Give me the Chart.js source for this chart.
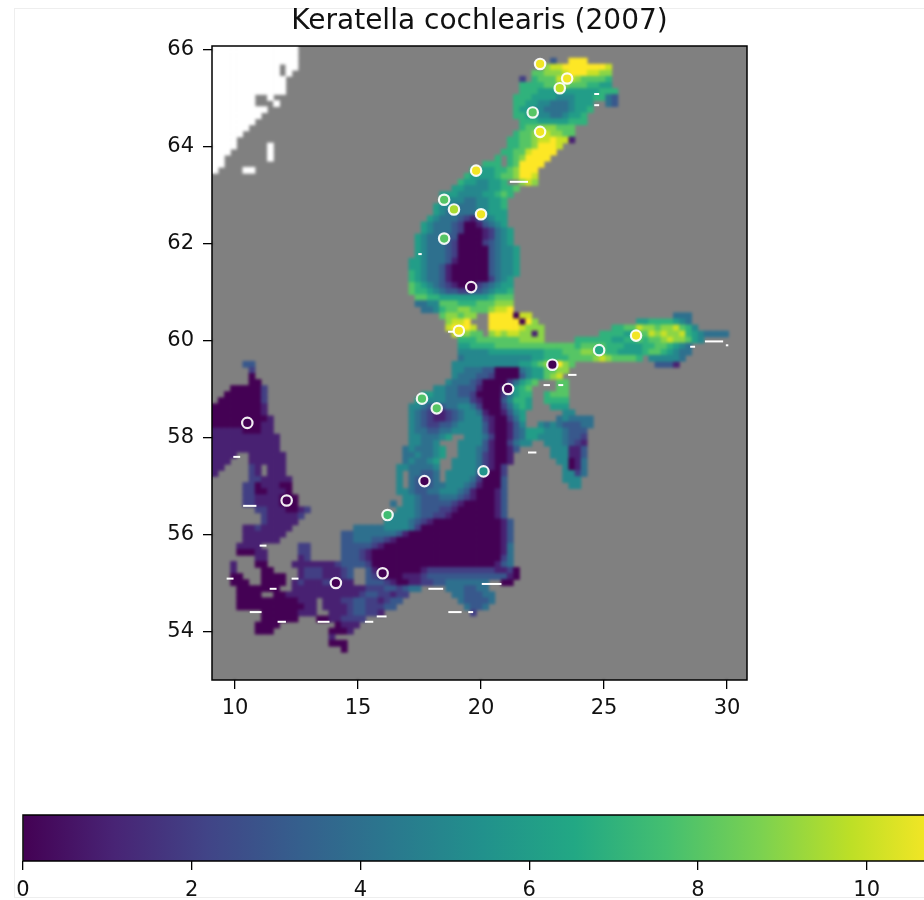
<!DOCTYPE html>
<html>
<head>
<meta charset="utf-8">
<title>Keratella cochlearis (2007)</title>
<script src="https://cdn.jsdelivr.net/npm/chart.js@4/dist/chart.umd.min.js"></script>
<style>
  html, body { margin: 0; padding: 0; background: #fff; overflow: hidden; width: 924px; height: 900px; }
  #frame { position: absolute; left: 14px; top: 8px; width: 1000px; height: 888px; border: 1px solid #eee; }
  #mapBox { position: absolute; left: 0; top: 0; width: 924px; height: 800px; }
  #barBox { position: absolute; left: 0; top: 800px; width: 960px; height: 100px; }
  canvas { filter: blur(0.35px); }
</style>
</head>
<body>
<div id="frame"></div>
<div id="mapBox"><canvas id="mapChart"></canvas></div>
<div id="barBox"><canvas id="barChart"></canvas></div>
<script>
// Tick labels
const lonTicks = [10, 15, 20, 25, 30];
const latTicks = [54, 56, 58, 60, 62, 64, 66];
const barTicks = [0, 2, 4, 6, 8, 10];

// Sampling stations
const stationLon = [22.4, 23.5, 23.2, 22.1, 22.4, 19.8, 18.5, 18.9, 20.0, 18.5, 19.6, 19.1, 26.3, 24.8, 22.9, 21.1, 17.6, 18.2, 10.5, 20.1, 17.7, 12.1, 16.2, 16.0, 14.1];
const stationLat = [65.7, 65.4, 65.2, 64.7, 64.3, 63.5, 62.9, 62.7, 62.6, 62.1, 61.1, 60.2, 60.1, 59.8, 59.5, 59.0, 58.8, 58.6, 58.3, 57.3, 57.1, 56.7, 56.4, 55.2, 55.0];
const stationVal = [10.7, 10.7, 9.8, 8.0, 10.7, 10.7, 8.0, 9.5, 10.7, 8.0, 0, 10.7, 10.7, 6.6, 0, 0, 7.9, 8.0, 0, 5.6, 0, 0, 7.5, 0, 0];

// Short no-data slivers along the coasts: centre and half width in degrees
const dashLon = [10.07, 10.6, 9.8, 11.55, 12.44, 10.84, 11.9, 13.6, 15.45, 15.96, 18.16, 18.94, 19.58, 20.43, 11.14, 22.08, 29.47, 28.6, 22.67, 23.71, 23.24, 30, 21.54, 24.7, 24.7, 17.52, 18.83];
const dashLat = [57.6, 56.59, 55.09, 54.88, 55.09, 54.4, 54.2, 54.2, 54.2, 54.31, 54.88, 54.4, 54.4, 54.98, 55.77, 57.69, 59.98, 59.87, 59.08, 59.29, 59.08, 59.9, 63.27, 65.08, 64.85, 61.78, 60.18];
const dashHalf = [0.14, 0.27, 0.14, 0.14, 0.14, 0.24, 0.17, 0.24, 0.17, 0.2, 0.3, 0.27, 0.1, 0.4, 0.14, 0.17, 0.37, 0.1, 0.13, 0.17, 0.1, 0.05, 0.37, 0.1, 0.1, 0.07, 0.17];

// Map cells: [grid row, first grid column, cells]
// 0-9 = value, a = 10, b = 10.9, . = land, w = no data
const noDataRows = [
  [0,0,'wwwwwwwwwwwwww'],[1,0,'wwwwwwwwwwwwww'],[2,0,'wwwwwwwwwwwwww'],[3,0,'wwwwwwwwwww.ww'],
  [4,0,'wwwwwwwwwww.w'],[5,0,'wwwwwwwwwwww'],[6,0,'wwwwwwwwwwww'],[7,0,'wwwwwwwwwwww'],
  [8,0,'wwwwwww..w'],[9,0,'wwwwwww...w'],[10,0,'wwwwwwwww'],[11,0,'wwwwwwww'],[12,0,'wwwwwww'],
  [13,0,'wwwwww'],[14,0,'wwwww'],[15,0,'wwww'],[16,0,'wwww.....w'],[17,0,'www......w'],
  [18,0,'ww.......w'],[19,0,'ww'],[20,0,'w....ww']
];

const bothnianRows = [
  [2,55,'3..bbb'],[3,54,'9aabbbbbbba'],[4,52,'88999abbbaa99'],[5,50,'2.7888aaa988887'],
  [6,50,'777788998887766'],[7,50,'7776666666666777'],[8,49,'77766665556667743'],
  [9,49,'7766554445666..43'],[10,49,'7665544445667'],[11,49,'776655445667'],[12,50,'77766666777'],
  [13,50,'788999888'],[14,49,'7889aa9988'],[15,48,'77889aabaa1'],[16,48,'77889bbba'],
  [17,47,'7788abbbb'],[18,46,'7.789bbbb'],[19,44,'777.78bbbb'],[20,42,'76667789bbb'],
  [21,41,'766667889bba'],[22,40,'76655667..9a9'],[23,39,'66555566778'],[24,37,'666555566787'],
  [25,37,'75554455667'],[26,36,'655444455667'],[27,36,'654444455666'],[28,35,'6544432134566'],
  [29,34,'65444320013456'],[30,34,'654443200012456'],[31,33,'6544433000012456'],
  [32,33,'6544432000023456'],[33,33,'65444320000034556'],[34,33,'65444320000034556'],
  [35,32,'665444310000034556'],[36,32,'665443100000034556'],[37,32,'765443100000034556'],
  [38,32,'76544310000002456'],[39,32,'87654321000234566'],[40,32,'87765433223345667'],
  [41,33,'8877666666667888'],[42,33,'4455888777888999'],[43,34,'445788998889aab'],
  [44,37,'899899..bbbb0aa'],[45,38,'9aab...bbbbb0b9'],[46,38,'abbba..bbbbba999'],
  [47,39,'a9988.9a9aa9919'],[48,40,'77788888889999']
];

const finlandRows = [
  [44,75,'444'],[45,69,'667777654'],[46,65,'7788a99899a875'],[47,63,'77776688a9a99a7654444'],
  [48,59,'777777667787889a99865'],[52,72,'3331']
];

const balticRows = [
  [49,40,'667777888888888888878888777666778876 54'.replace(' ','')],
  [50,40,'55555666666666777888998877666678876544'],
  [51,40,'45555555555566777788889a988887.555554'],
  [52,39,'55555555555667899b98'],[53,39,'5544433000045668899'],[54,39,'544433200003566 89a'.replace(' ','')],
  [55,38,'544432000024678...88'],[56,36,'5544333100014678....88'],[57,34,'665544332000024677..7888'],
  [58,33,'6655544442100035776..7777'],[59,32,'55433344554200024676...666'],
  [60,32,'5432112345541001356......55'],[61,32,'5432112345552100246.....454444'],
  [62,32,'5432233455553100135..545433344'],[63,32,'54433445555531001346665554333'],
  [64,32,'5544456..55542001346655554332'],[65,32,'55445...555531002455..5554321'],
  [66,31,'4544456..5554310013.....555113'],[67,31,'4454456..555421001......555113'],
  [68,31,'454456..5555421001.......55014'],[69,30,'5544445..555542102.........5014'],
  [70,30,'5.44334.5555531002.........5524'],[71,30,'5.43334.5555420003.........555'],
  [72,30,'5.4333445554310003..........55'],[73,30,'554334455543100013'],[74,31,'55433344432100013'],
  [75,29,'4.55433333210000013'],[76,30,'555433322100000013'],[77,29,'5555433221000000013'],
  [78,28,'555543210000000000013'],[79,23,'44444555542000000000000013'],
  [80,21,'3344444443100000000000000013'],[81,21,'3344433210000000000000000013'],
  [82,21,'3333321000000000000000000014'],[83,21,'3332100000000000000000000014'],
  [84,21,'3332100000000000000000000024'],[85,16,'111123333200000000000000000000134'],
  [86,14,'122211123..3100000001222222222221120'],[87,14,'122211123..3210001112333333333333310'],
  [88,13,'1211122111..33321001122334444444..00'],[89,4,'0000000..111111111111222332344....4443344'],
  [90,4,'0000..0011111111111123322122.......4433344'],[91,4,'0000000000111.1112233221233.........433334'],
  [92,4,'0000000000011.111123322233...........4334'],[93,8,'000000111..111233221..............2'],
  [94,8,'000000...00112222'],[95,7,'0000.........0111'],[96,7,'000.........0001'],[97,19,'1'],
  [98,19,'000'],[99,21,'0']
];

const danishRows = [
  [52,5,'33'],[53,6,'2'],[54,6,'0'],[55,6,'00'],[56,3,'000002'],[57,2,'0000002'],[58,1,'00000002'],
  [59,0,'000000001'],[60,0,'000000001'],[61,0,'0000000001'],[62,0,'0000000011'],[63,0,'1111100011'],
  [64,0,'11111111111'],[65,0,'11111111111'],[66,0,'11111111111'],[67,0,'1111..111111'],
  [68,0,'111...111111'],[69,0,'11....21.111'],[70,0,'1.....21.111'],[71,6,'2211111'],
  [72,5,'22011100'],[73,5,'22001110'],[74,5,'221111000'],[75,5,'221111000'],[76,7,'221110012'],
  [77,8,'2111112'],[78,8,'211111'],[79,5,'11211111'],[80,5,'1111111'],[81,5,'111111'],
  [82,4,'1111......22'],[83,4,'00011.....22'],[84,7,'11.....12'],[85,3,'1...00....111'],
  [86,3,'1....00'],[87,3,'00...0000'],[88,3,'000..0000']
];

const viridisStops = ['#440154', '#482475', '#414487', '#355f8d', '#2a788e', '#21918c', '#22a884', '#44bf70', '#7ad151', '#bddf26', '#fde725'];
const colorMax = 10.9;

function viridis(v) {
  const t = Math.min(Math.max(v / colorMax, 0), 1) * (viridisStops.length - 1);
  const i = Math.min(Math.floor(t), viridisStops.length - 2);
  const f = t - i;
  const a = hexToRgb(viridisStops[i]);
  const b = hexToRgb(viridisStops[i + 1]);
  return `rgb(${a.map((c, k) => Math.round(c + (b[k] - c) * f)).join(',')})`;
}

function hexToRgb(hex) {
  return [1, 3, 5].map(p => parseInt(hex.slice(p, p + 2), 16));
}

// one cell is a quarter degree wide and an eighth of a degree tall
function lonOf(col) { return 9.065 + (col + 0.5) * 0.25; }
function latOf(row) { return 66.07 - (row + 0.5) * 0.125; }

function cellValue(ch) {
  if (ch === 'a') return 10;
  if (ch === 'b') return 10.9;
  return +ch;
}

const cellPoints = [];
const cellColors = [];
[noDataRows, danishRows, bothnianRows, finlandRows, balticRows].forEach(rows => {
  rows.forEach(([row, col, cells]) => {
    [...cells].forEach((ch, i) => {
      if (ch === '.') return;
      cellPoints.push({ x: lonOf(col + i), y: latOf(row) });
      cellColors.push(ch === 'w' ? '#ffffff' : viridis(cellValue(ch)));
    });
  });
});

const tickFont = { family: '"DejaVu Sans"', size: 21 };
const CELLS_INDEX = 2;

const framePlugin = {
  id: 'frame',
  beforeDatasetsDraw(chart) {
    const a = chart.chartArea;
    chart.ctx.fillStyle = '#808080';
    chart.ctx.fillRect(a.left, a.top, a.width, a.height);
  },
  // the reference picture is smoothed, so soften the cells once they are all drawn
  afterDatasetDraw(chart, args) {
    if (args.index !== CELLS_INDEX) return;
    const a = chart.chartArea;
    const ctx = chart.ctx;
    ctx.save();
    ctx.beginPath();
    ctx.rect(a.left, a.top, a.width, a.height);
    ctx.clip();
    ctx.filter = 'blur(1.6px)';
    ctx.drawImage(chart.canvas, 0, 0, chart.width, chart.height);
    ctx.restore();
  },
  afterDraw(chart) {
    const a = chart.chartArea;
    chart.ctx.strokeStyle = '#000';
    chart.ctx.lineWidth = 1.5;
    chart.ctx.strokeRect(a.left, a.top, a.width, a.height);
  }
};

new Chart(document.getElementById('mapChart'), {
  type: 'scatter',
  plugins: [framePlugin],
  data: {
    datasets: [
      {
        label: 'stations',
        order: 0,
        data: stationLon.map((lon, i) => ({ x: lon, y: stationLat[i] })),
        backgroundColor: stationVal.map(viridis),
        borderColor: 'rgba(255,255,255,0.92)',
        borderWidth: 2.2,
        pointRadius: 5.2,
        pointHoverRadius: 5.2
      },
      {
        label: 'coast dashes',
        order: 1,
        data: dashLon.map((lon, i) => ({ x: lon, y: dashLat[i] })),
        pointStyle: 'line',
        borderColor: '#fff',
        borderWidth: 2,
        pointRadius(context) {
          const x = context.chart.scales.x;
          const i = context.dataIndex;
          return x.getPixelForValue(dashLon[i] + dashHalf[i]) - x.getPixelForValue(dashLon[i]);
        }
      },
      {
        label: 'cells',
        order: 2,
        data: cellPoints,
        pointStyle: 'rect',
        backgroundColor: cellColors,
        borderWidth: 0,
        pointRadius: 4.8
      }
    ]
  },
  options: {
    responsive: true,
    maintainAspectRatio: false,
    animation: false,
    events: [],
    layout: { padding: { left: 152, right: 177, top: 0, bottom: 0 } },
    plugins: {
      legend: { display: false },
      tooltip: { enabled: false },
      title: {
        display: true,
        text: 'Keratella cochlearis (2007)',
        color: '#111',
        fullSize: false,
        font: { family: '"DejaVu Sans"', size: 28, weight: 'normal', lineHeight: 1.2 },
        padding: { top: 4.5, bottom: 7.9 }
      }
    },
    scales: {
      x: {
        type: 'linear',
        min: 9.065,
        max: 30.81,
        grid: { drawOnChartArea: false, color: '#000', tickLength: 9, lineWidth: 1.3 },
        border: { display: false },
        afterBuildTicks(s) { s.ticks = lonTicks.map(v => ({ value: v })); },
        afterFit(s) { s.height = 120; },
        ticks: { color: '#111', font: tickFont, padding: 6.5, maxRotation: 0, autoSkip: false }
      },
      y: {
        type: 'linear',
        min: 53.0,
        max: 66.07,
        grid: { drawOnChartArea: false, color: '#000', tickLength: 9, lineWidth: 1.3 },
        border: { display: false },
        afterBuildTicks(s) { s.ticks = latTicks.map(v => ({ value: v })); },
        afterFit(s) { s.width = 60; },
        ticks: { color: '#111', font: tickFont, padding: 9, autoSkip: false }
      }
    }
  }
});

new Chart(document.getElementById('barChart'), {
  type: 'bar',
  plugins: [{
    id: 'barFrame',
    afterDraw(chart) {
      const a = chart.chartArea;
      chart.ctx.strokeStyle = '#000';
      chart.ctx.lineWidth = 1.5;
      chart.ctx.strokeRect(a.left, a.top, a.width, a.height);
    }
  }],
  data: {
    labels: ['colour'],
    datasets: [{
      data: [[0, colorMax]],
      barPercentage: 1,
      categoryPercentage: 1,
      backgroundColor(context) {
        const chart = context.chart;
        if (!chart.chartArea) return '#000';
        const g = chart.ctx.createLinearGradient(chart.scales.x.getPixelForValue(0), 0, chart.scales.x.getPixelForValue(colorMax), 0);
        viridisStops.forEach((c, i) => g.addColorStop(i / (viridisStops.length - 1), c));
        return g;
      }
    }]
  },
  options: {
    indexAxis: 'y',
    responsive: true,
    maintainAspectRatio: false,
    animation: false,
    events: [],
    layout: { padding: { left: 23, right: 17.4, top: 15, bottom: 0 } },
    plugins: { legend: { display: false }, tooltip: { enabled: false } },
    scales: {
      x: {
        type: 'linear',
        min: 0,
        max: colorMax,
        grid: { drawOnChartArea: false, color: '#000', tickLength: 9, lineWidth: 1.3 },
        border: { display: false },
        afterBuildTicks(s) { s.ticks = barTicks.map(v => ({ value: v })); },
        afterFit(s) { s.height = 39; },
        ticks: { color: '#111', font: tickFont, padding: 7.5, maxRotation: 0, autoSkip: false }
      },
      y: { display: false }
    }
  }
});
</script>
</body>
</html>
